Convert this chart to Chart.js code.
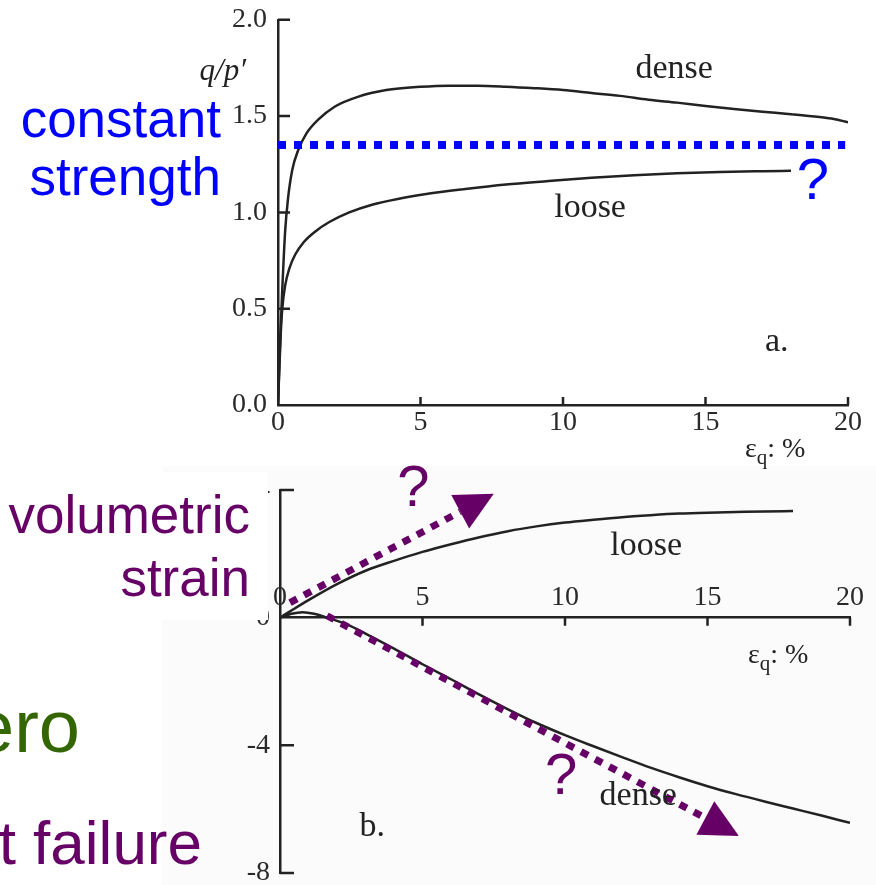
<!DOCTYPE html>
<html>
<head>
<meta charset="utf-8">
<script src="https://cdn.jsdelivr.net/npm/chart.js@4.4.1/dist/chart.umd.min.js"></script>
<style>
    html, body { margin: 0; padding: 0; background: #fff; }
    #page { position: relative; width: 876px; height: 885px; overflow: hidden; }
    .plot { position: absolute; left: 0; width: 876px; }
    #stressWrap { top: -8px; height: 480px; z-index: 1; }
    #volShade { position: absolute; left: 162px; top: 466px; width: 714px; height: 419px; background: #fbfbfb; }
    #volWrap { top: 462px; height: 440px; z-index: 1; }
    #volBox { position: absolute; left: 0; top: 472px; width: 268px; height: 148px; background: #fff; z-index: 2; }
    .note { position: absolute; font-family: "Liberation Sans", Arial, sans-serif; line-height: 1; white-space: nowrap; text-align: right; z-index: 3; }
    .blue { color: #0000ff; font-size: 53px; right: 655px; }
    .purple { color: #660066; }
    .green { color: #336600; }
</style>
</head>
<body>
<div id="page">
    <div id="volShade"></div>
    <div class="plot" id="stressWrap"><canvas id="stressChart"></canvas></div>
    <div class="plot" id="volWrap"><canvas id="volChart"></canvas></div>
    <div id="volBox"></div>
    <div class="note blue" style="top: 92px;">constant</div>
    <div class="note blue" style="top: 150px;">strength</div>
    <div class="note purple" style="top: 488px; right: 626px; font-size: 53px;">volumetric</div>
    <div class="note purple" style="top: 551px; right: 626px; font-size: 53px;">strain</div>
    <div class="note green" style="top: 690px; right: 796px; font-size: 74px;">ero</div>
    <div class="note purple" style="top: 812px; right: 674px; font-size: 62px;">t failure</div>
</div>
<script>
// tick values
const strainTicks = [0, 5, 10, 15, 20];
const stressRatioTicks = [0, 0.5, 1.0, 1.5, 2.0];
const volTicks = [-8, -4, 0, 4];

// a. stress ratio q/p' vs shear strain (%)
const denseStrain = [0, 0.08, 0.15, 0.25, 0.35, 0.5, 0.7, 1.0, 1.4, 2.0, 2.8, 3.8, 5, 6, 7, 8, 9, 10, 11, 12, 13, 14, 15, 16, 17, 18, 19, 19.5, 20];
const denseRatio = [0, 0.35, 0.6, 0.9, 1.07, 1.22, 1.32, 1.41, 1.48, 1.55, 1.6, 1.635, 1.652, 1.658, 1.658, 1.653, 1.645, 1.635, 1.62, 1.605, 1.585, 1.57, 1.553, 1.537, 1.523, 1.51, 1.495, 1.485, 1.468];
const looseStrain = [0, 0.05, 0.1, 0.15, 0.25, 0.4, 0.6, 0.9, 1.3, 1.8, 2.5, 3.3, 4.2, 5.2, 6.5, 8, 9.5, 11, 12.5, 14, 15.5, 17, 18];
const looseRatio = [0, 0.2, 0.38, 0.5, 0.62, 0.71, 0.78, 0.845, 0.9, 0.95, 1.0, 1.04, 1.07, 1.095, 1.12, 1.145, 1.163, 1.18, 1.193, 1.203, 1.21, 1.214, 1.216];
const constantStrength = 1.35;
const constantStrengthSpan = [0, 19.9];

// b. volumetric strain (%) vs shear strain (%)
const denseVolStrain = [0, 0.4, 0.8, 1.2, 1.65, 2, 2.5, 3, 4, 5, 6, 7, 8, 9, 10, 11, 12, 13, 14, 15, 16, 17, 18, 19, 20];
const denseVol = [0, 0.12, 0.17, 0.12, 0, -0.1, -0.27, -0.5, -0.97, -1.46, -1.93, -2.41, -2.87, -3.3, -3.68, -4.03, -4.37, -4.7, -5.0, -5.28, -5.53, -5.76, -5.98, -6.2, -6.43];
const looseVolStrain = [0, 0.5, 1, 2, 3, 4, 5, 6, 7, 8, 9, 10, 11, 12, 13, 14, 15, 16, 17, 18];
const looseVol = [0, 0.28, 0.55, 1.05, 1.47, 1.78, 2.06, 2.3, 2.52, 2.71, 2.86, 2.98, 3.07, 3.15, 3.21, 3.26, 3.29, 3.31, 3.33, 3.34];

// trend arrows on b., [strain, volumetric strain]
const trendArrows = [
    { from: [0.35, 0.47], to: [7.5, 3.88] },
    { from: [1.65, 0.06], to: [16.1, -6.84] },
];

const toPoints = (xs, ys) => xs.map((x, i) => ({ x: x, y: ys[i] }));

const ink = "#222";
const purple = "#660066";
const serif = '"Liberation Serif", "Times New Roman", serif';
const sans = '"Liberation Sans", Arial, sans-serif';

Chart.defaults.font.family = serif;
Chart.defaults.font.size = 28;
Chart.defaults.color = "#2a2a2a";

function curve(points) {
    return {
        data: points,
        borderColor: ink,
        borderWidth: 2.5,
        pointRadius: 0,
        cubicInterpolationMode: "monotone",
        fill: false,
    };
}

function drawArrow(ctx, xs, ys, arrow, st) {
    const x0 = xs.getPixelForValue(arrow.from[0]);
    const y0 = ys.getPixelForValue(arrow.from[1]);
    const x1 = xs.getPixelForValue(arrow.to[0]);
    const y1 = ys.getPixelForValue(arrow.to[1]);
    const len = Math.hypot(x1 - x0, y1 - y0);
    const ux = (x1 - x0) / len, uy = (y1 - y0) / len;
    const bx = x1 - ux * st.head, by = y1 - uy * st.head;

    ctx.strokeStyle = st.color;
    ctx.lineWidth = st.width;
    ctx.lineCap = "butt";
    ctx.setLineDash(st.dash);
    ctx.beginPath();
    ctx.moveTo(x0, y0);
    ctx.lineTo(bx, by);
    ctx.stroke();
    ctx.setLineDash([]);

    ctx.fillStyle = st.color;
    ctx.beginPath();
    ctx.moveTo(x1, y1);
    ctx.lineTo(bx - uy * st.half, by + ux * st.half);
    ctx.lineTo(bx + uy * st.half, by - ux * st.half);
    ctx.closePath();
    ctx.fill();
}

// inward tick marks, arrows and in-plot labels
const plotNotes = {
    id: "plotNotes",
    afterDatasetsDraw(chart, args, opts) {
        const { ctx, chartArea } = chart;
        const xs = chart.scales.x, ys = chart.scales.y;
        const axisY = ys.getPixelForValue(0);
        ctx.save();

        ctx.strokeStyle = ink;
        ctx.lineWidth = 2.5;
        ctx.beginPath();
        xs.ticks.forEach((t) => {
            if (t.value === 0) return;
            const px = xs.getPixelForValue(t.value);
            ctx.moveTo(px, axisY);
            ctx.lineTo(px, axisY + opts.xTick);
        });
        ys.ticks.forEach((t) => {
            if (t.value === 0) return;
            const py = ys.getPixelForValue(t.value);
            ctx.moveTo(chartArea.left, py);
            ctx.lineTo(chartArea.left + opts.yTick, py);
        });
        ctx.stroke();

        (opts.arrows || []).forEach((a) => drawArrow(ctx, xs, ys, a, opts.arrowStyle));

        ctx.textAlign = "center";
        ctx.textBaseline = "middle";
        (opts.labels || []).forEach((l) => {
            ctx.font = l.font;
            ctx.fillStyle = l.color || "#222";
            ctx.fillText(l.text, xs.getPixelForValue(l.at[0]), ys.getPixelForValue(l.at[1]));
        });

        // shear strain axis title
        ctx.textAlign = "left";
        ctx.textBaseline = "alphabetic";
        ctx.fillStyle = "#222";
        let tx = xs.getPixelForValue(20) - opts.titleShift;
        const ty = axisY + opts.titleDrop;
        ctx.font = "28px " + serif;
        ctx.fillText("\u03b5", tx, ty);
        tx += ctx.measureText("\u03b5").width;
        ctx.font = "21px " + serif;
        ctx.fillText("q", tx, ty + 7);
        tx += ctx.measureText("q").width;
        ctx.font = "28px " + serif;
        ctx.fillText(": %", tx, ty);

        if (opts.yTitle) {
            ctx.font = "italic 31px " + serif;
            ctx.textAlign = "right";
            ctx.textBaseline = "middle";
            ctx.fillText(opts.yTitle, chartArea.left - 32, ys.getPixelForValue(1.73));
        }
        ctx.restore();
    },
};

const fixedTicks = (values) => (scale) => {
    scale.ticks = values.map((v) => ({ value: v }));
};

new Chart(document.getElementById("stressChart"), {
    type: "line",
    data: {
        datasets: [
            {
                data: toPoints(constantStrengthSpan, [constantStrength, constantStrength]),
                borderColor: "#0000ff",
                borderWidth: 8,
                borderDash: [8, 8],
                borderCapStyle: "butt",
                pointRadius: 0,
                fill: false,
            },
            curve(toPoints(denseStrain, denseRatio)),
            curve(toPoints(looseStrain, looseRatio)),
        ],
    },
    options: {
        responsive: true,
        maintainAspectRatio: false,
        animation: false,
        layout: { padding: { left: 0, right: 28, top: 20, bottom: 0 } },
        scales: {
            x: {
                type: "linear",
                min: 0,
                max: 20,
                afterBuildTicks: fixedTicks(strainTicks),
                afterFit: (s) => { s.height = 67; },
                grid: { display: false, drawTicks: false },
                border: { display: true, color: ink, width: 2.5 },
                ticks: { padding: 1, maxRotation: 0, autoSkip: false },
            },
            y: {
                min: 0,
                max: 2,
                afterBuildTicks: fixedTicks(stressRatioTicks),
                afterFit: (s) => { s.width = 278; },
                grid: { display: false, drawTicks: false },
                border: { display: true, color: ink, width: 2.5 },
                ticks: { padding: 11, callback: (v) => v.toFixed(1) },
            },
        },
        plugins: {
            legend: { display: false },
            tooltip: { enabled: false },
            plotNotes: {
                xTick: -8,
                yTick: 12,
                titleShift: 103,
                titleDrop: 52,
                yTitle: "q/p\u2032",
                labels: [
                    { text: "dense", at: [13.9, 1.745], font: "34px " + serif },
                    { text: "loose", at: [10.95, 1.023], font: "34px " + serif },
                    { text: "a.", at: [17.5, 0.327], font: "34px " + serif },
                    { text: "?", at: [18.77, 1.153], font: "58px " + sans, color: "#0000ff" },
                ],
            },
        },
    },
    plugins: [plotNotes],
});

new Chart(document.getElementById("volChart"), {
    type: "line",
    data: {
        datasets: [
            curve(toPoints(denseVolStrain, denseVol)),
            curve(toPoints(looseVolStrain, looseVol)),
        ],
    },
    options: {
        responsive: true,
        maintainAspectRatio: false,
        animation: false,
        layout: { padding: { left: 0, right: 26, top: 28, bottom: 29 } },
        scales: {
            x: {
                type: "linear",
                position: { y: 0 },
                min: 0,
                max: 20,
                afterBuildTicks: fixedTicks(strainTicks),
                grid: { display: false, drawTicks: false },
                border: { display: true, color: ink, width: 2.5 },
                ticks: { padding: -37, maxRotation: 0, autoSkip: false },
            },
            y: {
                min: -8,
                max: 4,
                afterBuildTicks: fixedTicks(volTicks),
                afterFit: (s) => { s.width = 280; },
                grid: { display: false, drawTicks: false },
                border: { display: true, color: ink, width: 2.5 },
                ticks: { padding: 10 },
            },
        },
        plugins: {
            legend: { display: false },
            tooltip: { enabled: false },
            plotNotes: {
                xTick: 8,
                yTick: 14,
                titleShift: 102,
                titleDrop: 45,
                arrows: trendArrows,
                arrowStyle: { color: purple, width: 7, dash: [8, 8], head: 38, half: 19 },
                labels: [
                    { text: "loose", at: [12.85, 2.25], font: "34px " + serif },
                    { text: "dense", at: [12.57, -5.6], font: "34px " + serif },
                    { text: "b.", at: [3.24, -6.56], font: "34px " + serif },
                    { text: "?", at: [4.68, 4.0], font: "58px " + sans, color: purple },
                    { text: "?", at: [9.86, -5.03], font: "58px " + sans, color: purple },
                ],
            },
        },
    },
    plugins: [plotNotes],
});
</script>
</body>
</html>
